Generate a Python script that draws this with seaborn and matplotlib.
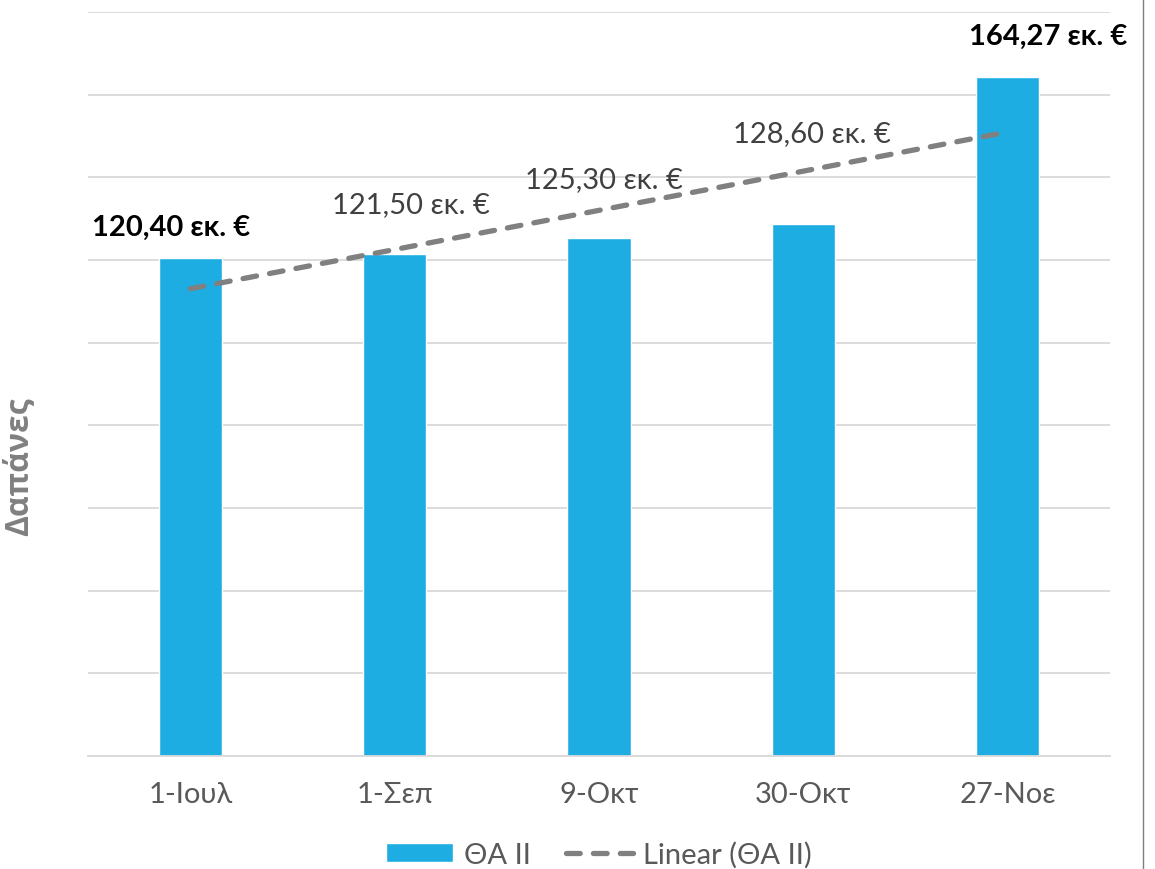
import numpy as np
import pandas as pd
import matplotlib.pyplot as plt
import seaborn as sns
from matplotlib.lines import Line2D

# Data
dates = ["1-Ιουλ", "1-Σεπ", "9-Οκτ", "30-Οκτ", "27-Νοε"]
costs = [120.40, 121.50, 125.30, 128.60, 164.27]
labels = ["120,40 εκ. €", "121,50 εκ. €", "125,30 εκ. €", "128,60 εκ. €", "164,27 εκ. €"]
series_name = "ΘΑ ΙΙ"
trend_name = "Linear (ΘΑ ΙΙ)"

df = pd.DataFrame({"date": dates, "cost": costs})

sns.set_style("white")
plt.rcParams["font.family"] = ["Lato", "Open Sans", "DejaVu Sans"]

fig = plt.figure(figsize=(11.55, 8.7), dpi=100)
ax = fig.add_axes([88 / 1155, 113 / 870, 1022 / 1155, 744 / 870])

bar_color = "#1EADE3"
sns.barplot(data=df, x="date", y="cost", color=bar_color, width=0.31,
            saturation=1, ax=ax, label=series_name)

# linear trendline
sns.regplot(x=np.arange(len(costs)), y=np.array(costs), scatter=False, ci=None,
            truncate=True, ax=ax, label=trend_name,
            line_kws=dict(color="#808080", lw=3.8, linestyle=(0, (2.6, 2.5)),
                          dash_capstyle="round"))

ax.set_ylim(0, 180)
ax.set_xlim(-0.5, 4.5)
ax.set_yticks(np.arange(0, 181, 20))
ax.set_yticklabels([])
ax.yaxis.grid(True, color="#D9D9D9", lw=1.3)
ax.set_axisbelow(True)
for s in ["top", "right", "left"]:
    ax.spines[s].set_visible(False)
ax.spines["bottom"].set_color("#D9D9D9")
ax.spines["bottom"].set_linewidth(1.3)
ax.tick_params(axis="both", length=0)
ax.tick_params(axis="x", pad=18, labelsize=21, labelcolor="#595959")

ax.set_xlabel("")
ax.set_ylabel("Δαπάνες", fontsize=23, fontweight="bold", color="#808080",
              family=["Open Sans", "DejaVu Sans"])
ax.yaxis.set_label_coords(-0.052, 0.39)

# data labels (manually placed as in the source chart)
offsets = [(-19, 31), (16, 50), (5, 59), (9, 91), (40, 41)]
bold = [True, False, False, False, True]
for i, (lab, val) in enumerate(zip(labels, costs)):
    dx, dy = offsets[i]
    ax.annotate(lab, xy=(i, val), xytext=(dx, dy), textcoords="offset pixels",
                ha="center", va="center", fontsize=21,
                fontweight="bold" if bold[i] else "normal",
                color="#000000" if bold[i] else "#404040")

handles, names = ax.get_legend_handles_labels()
order = [names.index(series_name), names.index(trend_name)]
leg = ax.legend([handles[k] for k in order], [names[k] for k in order],
                loc="center", bbox_to_anchor=(0.5, -0.132), ncol=2, frameon=False,
                fontsize=21, handlelength=2.3, handleheight=0.6, columnspacing=1.2,
                handletextpad=0.35)
for t in leg.get_texts():
    t.set_color("#595959")

fig.add_artist(Line2D([1143 / 1155, 1143 / 1155], [0, 1], color="#7F7F7F", lw=1))

fig.savefig("out.png", dpi=100)
